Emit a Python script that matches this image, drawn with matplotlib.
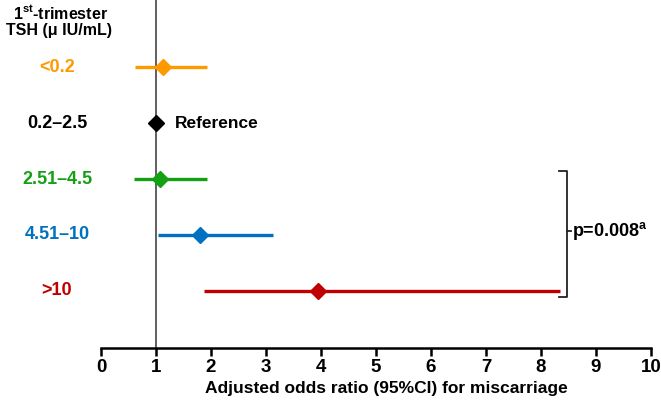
import numpy as np
import matplotlib.pyplot as plt

plt.rcParams['font.family'] = ['Liberation Sans', 'DejaVu Sans']
plt.rcParams['font.weight'] = 'bold'
plt.rcParams['mathtext.fontset'] = 'custom'
plt.rcParams['mathtext.rm'] = 'Liberation Sans'
plt.rcParams['mathtext.bf'] = 'Liberation Sans:bold'

# data (top to bottom)
groups = ['<0.2', '0.2\u20132.5', '2.51\u20134.5', '4.51\u201310', '>10']
odds = [1.13, 1.0, 1.07, 1.80, 3.95]
ci_low = [0.62, np.nan, 0.60, 1.04, 1.87]
ci_high = [1.93, np.nan, 1.93, 3.13, 8.35]
colors = ['#FF9900', '#000000', '#13A013', '#0070C0', '#C00000']

fig = plt.figure(figsize=(6.61, 4.04), dpi=100)
ax = fig.add_axes([101 / 661, 1 - 348 / 404, 550 / 661, 348 / 404])

ypos = np.arange(len(groups))[::-1]
for i in range(len(groups)):
    y = ypos[i]
    if not np.isnan(ci_low[i]):
        ax.plot([ci_low[i], ci_high[i]], [y, y], color=colors[i], lw=2.4,
                solid_capstyle='butt', zorder=2)
    ax.plot(odds[i], y, marker='D', ms=8.5, color=colors[i], mec=colors[i], zorder=3)
    ax.text(-0.08, y, groups[i], transform=ax.get_yaxis_transform(),
            ha='center', va='center', color=colors[i], fontsize=13, fontweight='bold')

ax.axvline(1, color='#444444', lw=1.2, zorder=1)
ax.text(1.35, ypos[1], 'Reference', ha='left', va='center', fontsize=12.5, fontweight='bold')

# header
ax.text(-0.074, 1 - 13 / 348, r'1$^{\mathbf{st}}$-trimester', transform=ax.transAxes,
        ha='center', va='center', fontsize=11.5, fontweight='bold')
ax.text(-0.076, 1 - 31 / 348, 'TSH (\u03bc IU/mL)', transform=ax.transAxes,
        ha='center', va='center', fontsize=11.5, fontweight='bold')

# bracket
xb = 8.47
ax.plot([8.33, xb, xb, 8.33], [ypos[2] + 0.15, ypos[2] + 0.15, ypos[4] - 0.1, ypos[4] - 0.1],
        color='#222222', lw=1.3, clip_on=False)
ymid = ypos[3] + 0.07
ax.plot([xb, xb + 0.08], [ymid, ymid], color='#222222', lw=1.3, clip_on=False)
ax.text(xb + 0.1, ymid, r'p=0.008$^{\mathrm{a}}$', ha='left', va='center',
        fontsize=13, fontweight='bold')

ax.set_xlim(0, 10)
ax.set_ylim(-1.02, 5.2)
ax.set_xticks(range(11))
ax.set_yticks([])
for s in ['top', 'right', 'left']:
    ax.spines[s].set_visible(False)
ax.spines['bottom'].set_linewidth(1.8)
ax.tick_params(axis='x', direction='out', length=6, width=1.8, labelsize=13.5, pad=2)
for lab in ax.get_xticklabels():
    lab.set_fontweight('bold')
ax.set_xlabel('Adjusted odds ratio (95%CI) for miscarriage', fontsize=12.5,
              fontweight='bold')
ax.xaxis.set_label_coords(0.518, -33 / 348)

fig.savefig('out.png', dpi=100)
